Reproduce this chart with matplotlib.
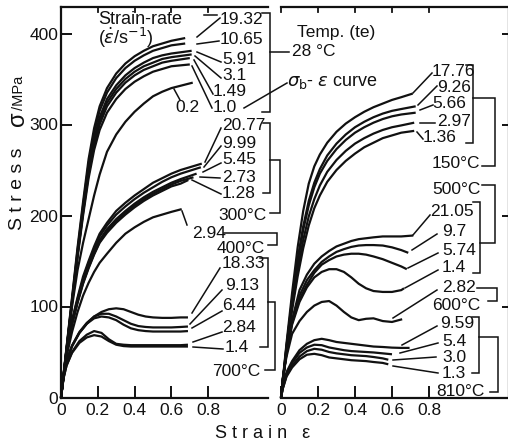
import matplotlib
matplotlib.use("Agg")
import matplotlib.pyplot as plt
from matplotlib.lines import Line2D

# ---------------------------------------------------------------- data
# strain sample points shared by the curves of one family
GRID_SMOOTH = [0.0, 0.03, 0.06, 0.09, 0.12, 0.15, 0.18, 0.21, 0.25, 0.30,
               0.35, 0.40, 0.45, 0.50, 0.55, 0.60, 0.65]
GRID_PEAK = [0.0, 0.01, 0.03, 0.06, 0.10, 0.14, 0.18, 0.22, 0.26, 0.30,
             0.34, 0.38, 0.42, 0.46, 0.50, 0.55, 0.60, 0.65]

# each stress list follows its grid; its last value sits at the end strain
# --- 28 degC (strain rates in 1/s)
T28_RATES = ["19.32", "10.65", "5.91", "3.1", "1.49", "1.0", "0.2"]
T28_END = [0.675, 0.675, 0.71, 0.71, 0.70, 0.70, 0.716]
T28_STRESS = [
    [0, 55, 110, 165, 215, 262, 296, 320, 340, 356, 367, 375, 381, 386, 389, 392, 395],
    [0, 54, 108, 162, 211, 257, 291, 315, 335, 351, 362, 370, 376, 381, 384, 387, 389],
    [0, 53, 106, 159, 207, 251, 284, 308, 328, 343, 354, 362, 368, 373, 376, 378, 381],
    [0, 53, 105, 157, 205, 248, 281, 304, 324, 339, 350, 358, 364, 368, 372, 374, 377],
    [0, 52, 104, 156, 203, 245, 277, 300, 320, 335, 346, 354, 360, 364, 368, 370, 373],
    [0, 52, 103, 154, 200, 241, 272, 294, 313, 328, 339, 347, 353, 358, 361, 364, 366],
    [0, 52, 100, 140, 170, 196, 222, 245, 270, 289, 303, 314, 323, 331, 336, 340, 346],
]
# --- 300 degC
T300_RATES = ["20.77", "9.99", "5.45", "2.73", "1.28"]
T300_END = [0.765, 0.76, 0.737, 0.72, 0.692]
T300_STRESS = [
    [0, 50, 85, 110, 133, 150, 166, 180, 192, 205, 214, 222, 229, 236, 241, 246, 250, 257],
    [0, 49, 84, 108, 130, 148, 163, 177, 189, 201, 210, 218, 225, 231, 237, 242, 246, 253],
    [0, 48, 82, 106, 128, 145, 160, 173, 185, 196, 205, 213, 220, 226, 231, 236, 240, 246],
    [0, 48, 81, 105, 126, 143, 158, 171, 183, 194, 203, 211, 218, 224, 229, 234, 238, 242],
    [0, 47, 80, 104, 125, 142, 157, 170, 181, 192, 201, 209, 216, 222, 227, 232, 235, 239],
]
# --- 400 degC
T400_RATES = ["2.94"]
T400_END = [0.656]
T400_STRESS = [
    [0, 45, 72, 94, 112, 126, 138, 148, 158, 170, 180, 187, 193, 198, 201, 204, 207],
]
# --- 700 degC
T700_RATES = ["18.33", "9.13", "6.44", "2.84", "1.4"]
T700_END = [0.69, 0.69, 0.69, 0.69, 0.69]
T700_STRESS = [
    [0, 20, 40, 57, 71, 81, 89, 94, 97, 98, 97, 94, 91, 89, 88, 87.5, 87.5, 88, 88],
    [0, 20, 40, 57, 72, 82, 89, 92, 92, 89, 85, 81, 78.5, 77.5, 77, 77, 77, 77.5, 78],
    [0, 20, 40, 56, 71, 81, 87, 89, 88, 85, 80, 76, 74, 73, 72.5, 72.5, 72.5, 72.5, 73],
    [0, 18, 35, 50, 62, 69, 73, 71, 64, 59, 58, 57.5, 57.5, 57.5, 57.5, 57.5, 57.5, 57.5, 58],
    [0, 18, 35, 49, 60, 66, 68.5, 67, 62, 58, 56.5, 56, 56, 56, 56, 56, 56, 56, 56],
]
# --- 150 degC
T150_RATES = ["17.76", "9.26", "5.66", "2.97", "1.36"]
T150_END = [0.712, 0.728, 0.728, 0.72, 0.72]
T150_STRESS = [
    [0, 60, 115, 165, 205, 235, 254, 267, 280, 292, 301, 308, 314, 319, 323, 327, 330, 334],
    [0, 57, 108, 152, 188, 216, 236, 251, 266, 279, 289, 297, 303, 308, 312, 315, 317, 320],
    [0, 56, 106, 149, 184, 211, 231, 246, 260, 273, 283, 291, 297, 302, 306, 309, 311, 313],
    [0, 54, 100, 140, 173, 199, 218, 233, 248, 261, 271, 279, 285, 290, 294, 297, 299, 302],
    [0, 52, 96, 133, 164, 189, 208, 222, 237, 250, 260, 268, 275, 280, 285, 288, 291, 293],
]
# --- 500 degC
T500_RATES = ["21.05", "9.7", "5.74", "1.4"]
T500_END = [0.715, 0.688, 0.68, 0.665]
T500_STRESS = [
    [0, 20, 50, 85, 118, 135, 147, 155, 161, 166, 169, 172, 174, 175, 176, 177, 177, 177, 178],
    [0, 20, 50, 84, 112, 129, 140, 149, 155, 160, 163, 165.5, 167, 167.5, 167.5, 167, 165, 162, 159],
    [0, 20, 49, 82, 108, 124, 137, 146, 151, 155, 157, 158, 158, 157, 155, 152, 148, 144, 141],
    [0, 20, 48, 80, 105, 121, 132, 138, 141, 141, 138, 132, 125, 120, 117, 116, 116, 118, 120],
]
# --- 600 degC
T600_RATES = ["2.82"]
T600_END = [0.655]
T600_STRESS = [
    [0, 22, 45, 70, 84, 94, 101, 105, 106, 101, 94, 88, 85, 86.5, 87, 84, 83, 86],
]
# --- 810 degC
T810_RATES = ["9.59", "5.4", "3.0", "1.3"]
T810_END = [0.695, 0.60, 0.58, 0.58]
T810_STRESS = [
    [0, 12, 28, 40, 52, 59, 63, 64.5, 63, 61, 60, 59, 58, 57, 56, 55.5, 54.8, 54.5, 54.5],
    [0, 11, 26, 38, 49, 55, 58, 57.5, 55, 53.5, 52, 51, 50.5, 50, 49.5, 48.5, 47.5],
    [0, 10, 24, 35, 45, 51, 53.5, 52.5, 50, 48.5, 47.5, 46.5, 46, 45.5, 44.5, 43, 41.5],
    [0, 10, 23, 33, 42, 47, 48, 46.5, 44, 43, 42, 41, 40.5, 40, 39, 38, 36.5],
]

X_TICKS = [0, 0.2, 0.4, 0.6, 0.8]
Y_TICKS = [0, 100, 200, 300, 400]
X_TICK_LABELS = ["0", "0.2", "0.4", "0.6", "0.8"]

# ---------------------------------------------------------------- figure
W, H, DPI = 508, 445, 100
plt.rcParams['font.family'] = ['Liberation Sans', 'DejaVu Sans']
plt.rcParams['mathtext.fontset'] = 'dejavusans'
fig = plt.figure(figsize=(W / DPI, H / DPI), dpi=DPI)
fig.patch.set_facecolor('white')

INK = '#111111'
LW = 1.6
FS = 12.5


def fx(x):
    return x / W


def fy(y):
    return 1 - y / H


Y_BOT, Y_TOP = 397.5, 6.5
PX_PER_MPA = 0.91
axL = fig.add_axes([fx(61), fy(Y_BOT), (268 - 61) / W, (Y_BOT - Y_TOP) / H])
axR = fig.add_axes([fx(281), fy(Y_BOT), (509 - 281) / W, (Y_BOT - Y_TOP) / H])
axL.set_xlim(0, (268 - 61) / 184)
axR.set_xlim(0, (509 - 281) / 185)
for ax in (axL, axR):
    ax.set_ylim(0, (Y_BOT - Y_TOP) / PX_PER_MPA)
    ax.set_facecolor('none')
    for sp in ax.spines.values():
        sp.set_linewidth(LW)
        sp.set_color(INK)
    ax.set_xticks(X_TICKS)
    ax.set_xticklabels(X_TICK_LABELS)
    ax.tick_params(axis='x', direction='in', length=8.5, width=1.4,
                   labelsize=FS, pad=4, colors=INK)
    # short inward ticks along the top edge
    for t in X_TICKS:
        ax.plot([t, t], [1, 1 - 5 / (Y_BOT - Y_TOP)], color=INK, lw=1.3,
                transform=ax.get_xaxis_transform(), clip_on=False)

axL.spines['right'].set_visible(False)
axL.set_yticks(Y_TICKS)
axL.tick_params(axis='y', direction='in', length=8, width=1.4,
                labelsize=FS, pad=2, colors=INK)

axR.spines['left'].set_visible(False)
axR.yaxis.tick_right()
axR.set_yticks(Y_TICKS[1:])
axR.tick_params(axis='y', direction='in', length=5, width=1.4,
                labelright=False, colors=INK)


def draw_family(ax, grid, stress_lists, ends):
    for vals, end in zip(stress_lists, ends):
        xs = grid[:len(vals) - 1] + [end]
        ax.plot(xs, vals, color=INK, lw=LW, solid_joinstyle='round',
                solid_capstyle='butt', clip_on=False)


draw_family(axL, GRID_SMOOTH, T28_STRESS, T28_END)
draw_family(axL, GRID_SMOOTH, T300_STRESS, T300_END)
draw_family(axL, GRID_SMOOTH, T400_STRESS, T400_END)
draw_family(axL, GRID_PEAK, T700_STRESS, T700_END)
draw_family(axR, GRID_SMOOTH, T150_STRESS, T150_END)
draw_family(axR, GRID_PEAK, T500_STRESS, T500_END)
draw_family(axR, GRID_PEAK, T600_STRESS, T600_END)
draw_family(axR, GRID_PEAK, T810_STRESS, T810_END)


# ---------------------------------------------------------------- labels
def text(x, y, s, **kw):
    opts = dict(ha='left', va='center', fontsize=FS, color=INK)
    opts.update(kw)
    fig.text(fx(x), fy(y), s, **opts)


def poly(*pts, lw=1.1):
    fig.add_artist(Line2D([fx(p[0]) for p in pts], [fy(p[1]) for p in pts],
                          transform=fig.transFigure, color=INK, lw=lw,
                          solid_joinstyle='miter'))


def rate_labels(rates, label_xy, leaders):
    for r, (x, y), seg in zip(rates, label_xy, leaders):
        text(x, y, r)
        poly(*seg)


# 28 degC
rate_labels(T28_RATES,
            [(220, 19), (220, 40), (222, 60), (222, 76), (213, 92), (213, 107), (175, 108)],
            [((220, 18), (197, 37)), ((219, 41), (197, 44)), ((221, 62), (197, 52)),
             ((221, 78), (195, 56)), ((213, 94), (194, 60)), ((212, 108), (192, 66)),
             ((180, 100), (174, 89))])
poly((204, 15), (217, 15))
poly((262, 13), (270, 13), (270, 112), (262, 112))
poly((270, 52), (289, 52))
text(292, 52, "28 °C")
text(297, 32, "Temp. (te)")
text(98, 19, "Strain-rate", fontsize=13)
text(98, 38, r"($\dot{\varepsilon}$/s$^{-1}$)", fontsize=13)
text(287, 82, r"$\sigma_\mathrm{b}$- $\varepsilon$ curve", fontsize=13)
poly((287, 83), (244, 108))

# 300 degC
rate_labels(T300_RATES,
            [(222, 125), (222, 143), (222, 160), (222, 177), (222, 193)],
            [((221, 128), (205, 162)), ((221, 146), (204, 167)), ((221, 163), (203, 172)),
             ((220, 178), (200, 177)), ((221, 194), (192, 180))])
poly((263, 123), (270, 123), (270, 193), (263, 193))
poly((270, 160), (280, 160), (280, 213), (270, 213))
text(218, 216, "300°C")

# 400 degC
rate_labels(T400_RATES, [(192, 234)], [((187, 225), (182, 211))])
poly((224, 233), (277, 233), (277, 245), (268, 245))
text(217, 249, "400°C")

# 700 degC
rate_labels(T700_RATES,
            [(222, 264), (225, 286), (222, 306), (222, 328), (225, 348)],
            [((220, 268), (192, 313)), ((222, 290), (190, 324)), ((222, 311), (192, 328)),
             ((222, 332), (193, 342)), ((223, 349), (193, 347))])
poly((260, 258), (268, 258), (268, 347), (260, 347))
poly((268, 302), (275, 302), (275, 370), (265, 370))
text(212, 372, "700°C")

# 150 degC
rate_labels(T150_RATES,
            [(432, 71), (437, 87), (432, 103), (437, 122), (423, 137)],
            [((432, 73), (413, 93)), ((437, 86), (418, 105)), ((433, 105), (420, 110)),
             ((435, 123), (420, 123)), ((423, 139), (417, 132))])
poly((466, 65), (473, 65), (473, 143), (466, 143))
poly((473, 98), (495, 98), (495, 166), (482, 166))
text(432, 163, "150°C")

# 500 degC
text(432, 190, "500°C")
poly((482, 185), (495, 185), (495, 243), (480, 243))
rate_labels(T500_RATES,
            [(430, 212), (442, 232), (442, 250), (442, 268)],
            [((430, 215), (413, 235)), ((437, 234), (412, 250)), ((438, 253), (408, 268)),
             ((438, 270), (405, 288))])
poly((473, 202), (480, 202), (480, 273), (473, 273))

# 600 degC
rate_labels(T600_RATES, [(442, 288)], [((437, 290), (393, 318))])
poly((477, 288), (497, 288), (497, 301), (488, 301))
text(432, 306, "600°C")

# 810 degC
rate_labels(T810_RATES,
            [(440, 323), (442, 342), (442, 357), (442, 373)],
            [((437, 326), (402, 345)), ((438, 343), (400, 353)), ((436, 357), (393, 360)),
             ((438, 373), (393, 366))])
poly((472, 317), (479, 317), (479, 373), (472, 373))
poly((479, 337), (498, 337), (498, 392), (490, 392))
text(436, 392, "810°C")

# axis titles
text(17, 189, "S t r e s s", rotation=90, ha='center', fontsize=14)
text(18, 119, "σ", rotation=90, ha='center', fontsize=17)
text(19, 93, "/MPa", rotation=90, ha='center', fontsize=10.5)
text(263, 433, "S t r a i n   ε", ha='center', fontsize=13)

fig.savefig("out.png", dpi=DPI, facecolor='white')
